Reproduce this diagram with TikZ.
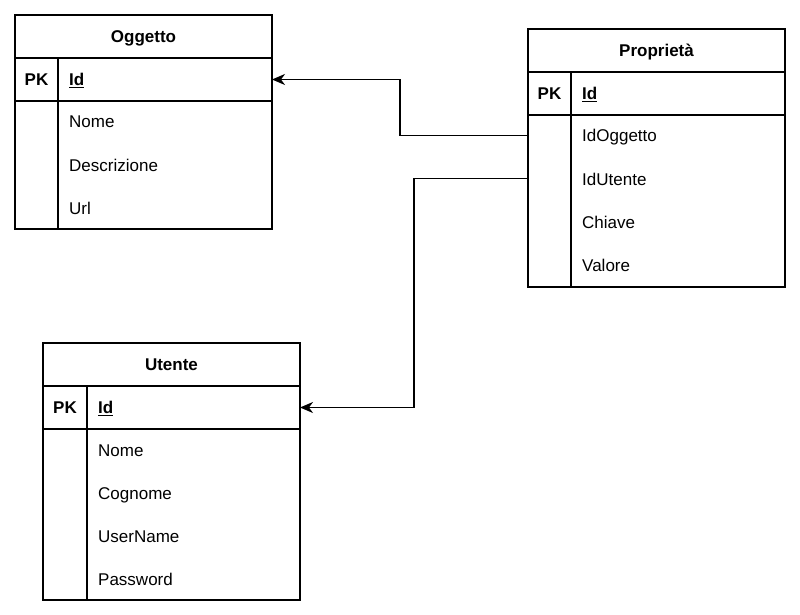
\documentclass[tikz,border=0pt]{standalone}
\usepackage{fontspec}
\setmainfont{Liberation Sans}
\usetikzlibrary{arrows.meta}
\begin{document}
\begin{tikzpicture}[x=1pt,y=-1pt,
  box/.style={draw, line width=1.4pt, rectangle, minimum width=257pt, inner sep=0pt, outer sep=0pt, anchor=north west},
  rowbox/.style={minimum width=257pt, minimum height=43pt, inner sep=0pt, outer sep=0pt, anchor=north west},
  fld/.style={anchor=base west, inner sep=0pt, font=\fontsize{17}{20}\selectfont},
  keyfld/.style={anchor=base west, inner sep=0pt, font=\bfseries\fontsize{17}{20}\selectfont},
  pk/.style={anchor=base, inner sep=0pt, font=\bfseries\fontsize{17}{20}\selectfont},
  ttl/.style={anchor=base, inner sep=0pt, font=\bfseries\fontsize{17}{20}\selectfont},
  divider/.style={line width=1.4pt},
  conn/.style={line width=1.4pt, -{Stealth[length=13pt,width=11pt,inset=4pt]}}]
\useasboundingbox (0,0) rectangle (800,615);

% ---------- Oggetto ----------
\node[box, minimum height=43pt] (oggT) at (15,15) {};
\node[box, minimum height=43pt] (oggPK) at (15,58) {};
\node[box, minimum height=128pt] (oggB) at (15,101) {};
\draw[divider] (58,58) -- (58,229);
\node[ttl] (oggTt) at (143.5,42.5) {Oggetto};
\node[pk] (oggPKt) at (36.5,85.5) {PK};
\node[keyfld] (oggId) at (69,85.5) {\underline{Id}};
\node[fld] (oggF1) at (69,128) {Nome};
\node[fld] (oggF2) at (69,171) {Descrizione};
\node[fld] (oggF3) at (69,214) {Url};

% ---------- Proprieta ----------
\node[box, minimum height=43pt] (prT) at (528,29) {};
\node[box, minimum height=43pt] (prPK) at (528,72) {};
\node[box, minimum height=172pt] (prB) at (528,115) {};
\draw[divider] (571,72) -- (571,287);
\node[ttl] (prTt) at (656.5,56.5) {Proprietà};
\node[pk] (prPKt) at (549.5,99.5) {PK};
\node[keyfld] (prId) at (582,99.5) {\underline{Id}};
\node[rowbox] (prR1) at (528,114) {};
\node[rowbox] (prR2) at (528,157) {};
\node[fld] (prF1) at (582,142) {IdOggetto};
\node[fld] (prF2) at (582,185) {IdUtente};
\node[fld] (prF3) at (582,228) {Chiave};
\node[fld] (prF4) at (582,271) {Valore};

% ---------- Utente ----------
\node[box, minimum height=43pt] (utT) at (43,343) {};
\node[box, minimum height=43pt] (utPK) at (43,386) {};
\node[box, minimum height=171pt] (utB) at (43,429) {};
\draw[divider] (87,386) -- (87,600);
\node[ttl] (utTt) at (171.5,370.5) {Utente};
\node[pk] (utPKt) at (65,413.5) {PK};
\node[keyfld] (utId) at (98,413.5) {\underline{Id}};
\node[fld] (utF1) at (98,456) {Nome};
\node[fld] (utF2) at (98,499) {Cognome};
\node[fld] (utF3) at (98,542) {UserName};
\node[fld] (utF4) at (98,585) {Password};

% ---------- connectors ----------
\coordinate (bend1) at (400,0);
\coordinate (bend2) at (414,0);
\draw[conn] (prR1.west) -- (prR1.west -| bend1) |- (oggPK.east);
\draw[conn] (prR2.west) -- (prR2.west -| bend2) |- (utPK.east);
\end{tikzpicture}
\end{document}
